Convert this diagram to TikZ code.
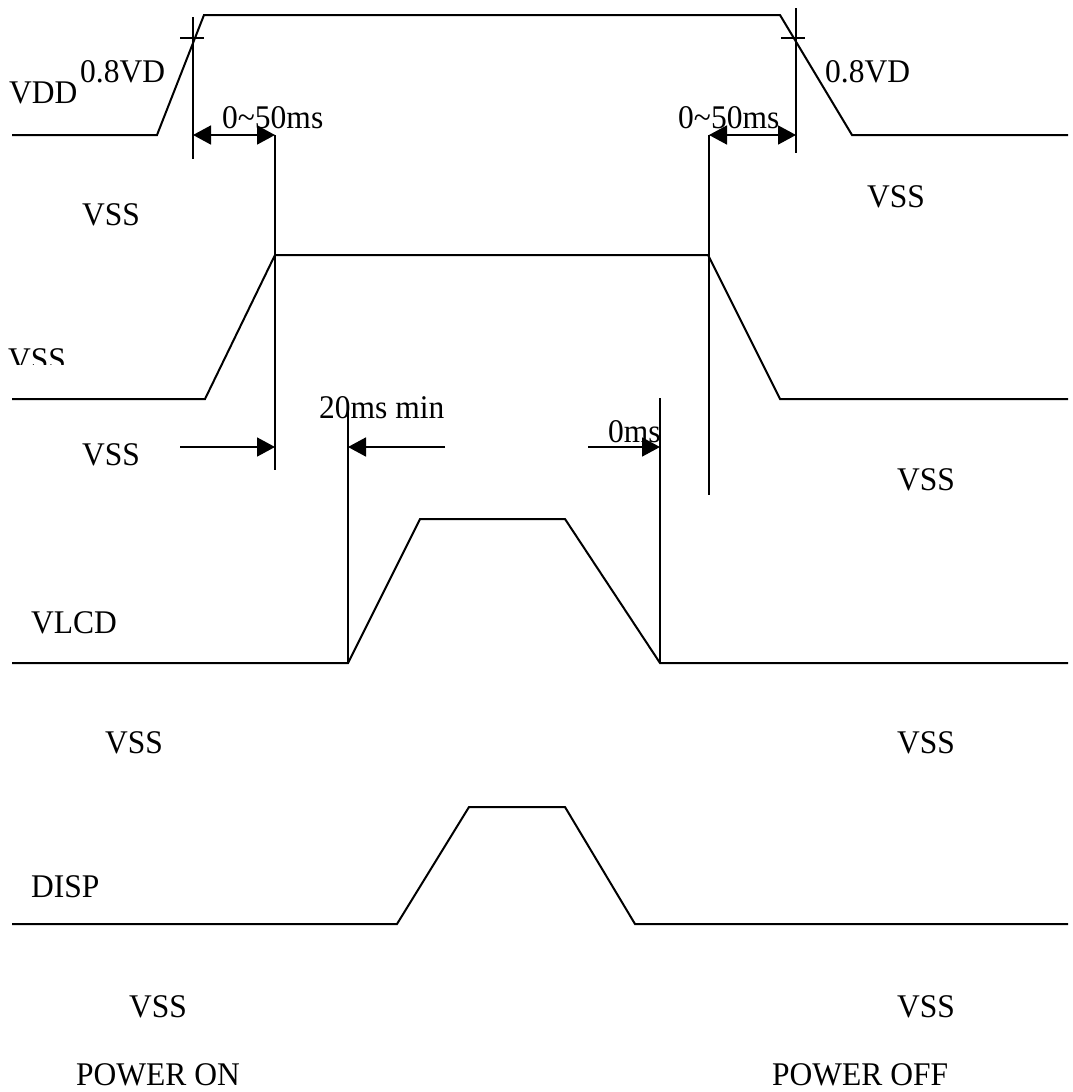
\documentclass[tikz,border=0pt]{standalone}
\usepackage{fontspec}
\setmainfont{Liberation Serif}
\usetikzlibrary{arrows.meta}
\newcommand\tx[1]{\scalebox{1}[1.05]{#1}}
\tikzset{
  wave/.style={line width=2pt, line join=miter},
  mkline/.style={line width=1.7pt},
  dimone/.style={line width=1.7pt, -{Triangle[length=18pt,width=19pt]}},
  dimboth/.style={line width=1.7pt, {Triangle[length=18pt,width=19pt]}-{Triangle[length=18pt,width=19pt]}},
  lbl/.style={inner sep=0pt, anchor=base west, font=\fontsize{31.5}{38}\selectfont},
}
\begin{document}
\begin{tikzpicture}[x=1pt,y=-1pt]
\useasboundingbox (0,0) rectangle (1073,1092);
% waveforms
\draw[wave] (12,135) -- (157,135) -- (204,15) -- (780,15) -- (852,135) -- (1068,135);
\draw[wave] (12,399) -- (205,399) -- (275,255) -- (708,255) -- (780,399) -- (1068,399);
\draw[wave] (12,663) -- (348,663) -- (420,519) -- (565,519) -- (660,663) -- (1068,663);
\draw[wave] (12,924) -- (397,924) -- (469,807) -- (565,807) -- (635,924) -- (1068,924);
% marker lines
\coordinate (m1t) at (193,17);  \coordinate (m1b) at (193,159);
\coordinate (k1l) at (180,38);  \coordinate (k1r) at (204,38);
\coordinate (m2t) at (275,135); \coordinate (m2b) at (275,470);
\coordinate (m3t) at (796,8);   \coordinate (m3b) at (796,153);
\coordinate (k3l) at (781,38);  \coordinate (k3r) at (805,38);
\coordinate (m4t) at (709,135); \coordinate (m4b) at (709,495);
\coordinate (m5t) at (348,410); \coordinate (m5b) at (348,663);
\coordinate (m6t) at (660,398); \coordinate (m6b) at (660,663);
\draw[mkline] (m1t) -- (m1b);
\draw[mkline] (k1l) -- (k1r);
\draw[mkline] (m2t) -- (m2b);
\draw[mkline] (m3t) -- (m3b);
\draw[mkline] (k3l) -- (k3r);
\draw[mkline] (m4t) -- (m4b);
\draw[mkline] (m5t) -- (m5b);
\draw[mkline] (m6t) -- (m6b);
% dimension arrows
\coordinate (a1) at (193,135); \coordinate (a2) at (275,135);
\coordinate (a3) at (709,135); \coordinate (a4) at (796,135);
\coordinate (b1) at (180,447); \coordinate (b2) at (275,447);
\coordinate (c1) at (445,447); \coordinate (c2) at (348,447);
\coordinate (d1) at (588,447); \coordinate (d2) at (660,447);
\draw[dimboth] (a1) -- (a2);
\draw[dimboth] (a3) -- (a4);
\draw[dimone] (b1) -- (b2);
\draw[dimone] (c1) -- (c2);
\draw[dimone] (d1) -- (d2);
% labels
\node[lbl] (vdd) at (9,103) {\tx{VDD}};
\node[lbl] (p8l) at (80,82) {\tx{0.8VD}};
\node[lbl] (t50l) at (222,128) {\tx{0\char`~50ms}};
\node[lbl] (vss1) at (82,225) {\tx{VSS}};
\begin{scope}
\clip (0,330) rectangle (120,364);
\node[lbl] (vss2) at (8,370) {\tx{VSS}};
\end{scope}
\node[lbl] (vss3) at (82,465) {\tx{VSS}};
\node[lbl] (t20) at (319,418) {\tx{20ms min}};
\node[lbl] (t0) at (608,442) {\tx{0ms}};
\node[lbl] (vss4) at (867,207) {\tx{VSS}};
\node[lbl] (p8r) at (825,82) {\tx{0.8VD}};
\node[lbl] (t50r) at (678,128) {\tx{0\char`~50ms}};
\node[lbl] (vss5) at (897,490) {\tx{VSS}};
\node[lbl] (vlcd) at (31,633) {\tx{VLCD}};
\node[lbl] (vss6) at (105,753) {\tx{VSS}};
\node[lbl] (vss7) at (897,753) {\tx{VSS}};
\node[lbl] (disp) at (31,897) {\tx{DISP}};
\node[lbl] (vss8) at (129,1017) {\tx{VSS}};
\node[lbl] (vss9) at (897,1017) {\tx{VSS}};
\node[lbl] (pon) at (76,1085) {\tx{POWER ON}};
\node[lbl] (poff) at (772,1085) {\tx{POWER OFF}};
\end{tikzpicture}
\end{document}
